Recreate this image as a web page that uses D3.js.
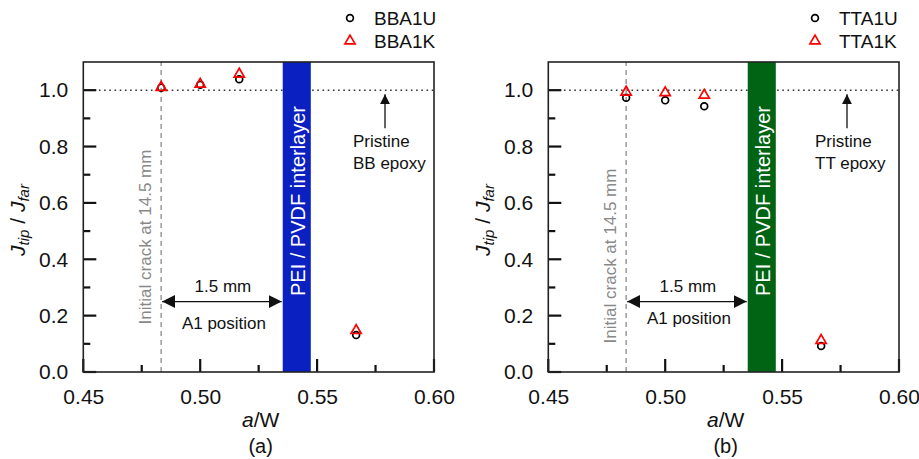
<!DOCTYPE html>
<html lang="en">
<head>
    <meta charset="UTF-8">
    <title>Jtip / Jfar vs a/W</title>
    <script src="https://cdnjs.cloudflare.com/ajax/libs/d3/7.8.5/d3.min.js"></script>
    <style>
        body { margin: 0; background: #fff; }
        svg { font-family: "Liberation Sans", Arial, sans-serif; }
        .axis path { display: none; }
        .axis text { font-size: 21px; fill: #111; font-family: "Liberation Sans", Arial, sans-serif; }
    </style>
</head>
<body>
<script type="text/javascript">
    const width = 919;
    const height = 459;

    // a/W positions of the measurement points
    const aw = [0.4833, 0.5000, 0.5167, 0.5667];
    // panel (a)
    const bbU = [1.009, 1.019, 1.039, 0.131];
    const bbK = [1.010, 1.021, 1.057, 0.147];
    // panel (b)
    const ttU = [0.973, 0.964, 0.943, 0.092];
    const ttK = [0.993, 0.991, 0.982, 0.112];

    const xTicks = [0.45, 0.50, 0.55, 0.60];
    const xMinor = [0.475, 0.525, 0.575];
    const yTicks = [0.0, 0.2, 0.4, 0.6, 0.8, 1.0];
    const yMinor = [0.1, 0.3, 0.5, 0.7, 0.9];

    const crackAW = 0.4833;
    const band = [0.5353, 0.5473];
    const pristineJ = 1.0;
    const arrowJ = 0.25;

    const svg = d3.select('body')
                  .append('svg')
                  .attr('width', width)
                  .attr('height', height);

    const defs = svg.append('defs');
    defs.append('marker')
        .attr('id', 'head')
        .attr('viewBox', '0 0 10 10')
        .attr('refX', 10).attr('refY', 5)
        .attr('markerWidth', 10).attr('markerHeight', 10)
        .attr('markerUnits', 'userSpaceOnUse')
        .attr('orient', 'auto-start-reverse')
        .append('path')
        .attr('d', 'M0,0 L10,5 L0,10 Z')
        .attr('fill', '#111');
    defs.append('marker')
        .attr('id', 'bighead')
        .attr('viewBox', '0 0 10 10')
        .attr('refX', 10).attr('refY', 5)
        .attr('markerWidth', 13).attr('markerHeight', 13)
        .attr('markerUnits', 'userSpaceOnUse')
        .attr('orient', 'auto-start-reverse')
        .append('path')
        .attr('d', 'M0,0 L10,5 L0,10 Z')
        .attr('fill', '#111');

    function drawPanel(p) {
        const x = d3.scaleLinear().domain([0.45, 0.60]).range([p.x0, p.x1]);
        const y = d3.scaleLinear().domain([0, 1.1]).range([372, 62]);
        const g = svg.append('g');

        // pristine level
        g.append('line')
            .attr('x1', x(0.45)).attr('x2', x(0.60))
            .attr('y1', y(pristineJ)).attr('y2', y(pristineJ))
            .attr('stroke', '#333').attr('stroke-width', 1.6)
            .attr('stroke-dasharray', '1.6,3.6');

        // interlayer band
        g.append('rect')
            .attr('x', x(band[0])).attr('y', y(1.1))
            .attr('width', x(band[1]) - x(band[0]))
            .attr('height', y(0) - y(1.1))
            .attr('fill', p.bandColor);
        g.append('text')
            .attr('transform', 'translate(' + ((x(band[0]) + x(band[1])) / 2 + 1) + ',' + 201 + ') rotate(-90)')
            .attr('text-anchor', 'middle')
            .attr('dominant-baseline', 'central')
            .attr('font-size', 20)
            .attr('fill', '#fff')
            .text('PEI / PVDF interlayer');

        // initial crack line
        g.append('line')
            .attr('x1', x(crackAW)).attr('x2', x(crackAW))
            .attr('y1', y(0)).attr('y2', y(1.1))
            .attr('stroke', '#999').attr('stroke-width', 1.5)
            .attr('stroke-dasharray', '5,4');
        g.append('text')
            .attr('transform', 'translate(' + (x(crackAW) - 16) + ',' + p.crackY + ') rotate(-90)')
            .attr('text-anchor', 'middle')
            .attr('dominant-baseline', 'central')
            .attr('font-size', 17)
            .attr('fill', '#888')
            .text('Initial crack at 14.5 mm');

        // 1.5 mm arrow
        g.append('line')
            .attr('x1', x(crackAW) + 1).attr('x2', x(band[0]) - 1)
            .attr('y1', y(arrowJ)).attr('y2', y(arrowJ))
            .attr('stroke', '#111').attr('stroke-width', 1.3)
            .attr('marker-start', 'url(#bighead)')
            .attr('marker-end', 'url(#bighead)');
        const mid = (x(crackAW) + x(band[0])) / 2;
        g.append('text')
            .attr('x', mid + 1).attr('y', y(arrowJ) - 10)
            .attr('text-anchor', 'middle').attr('font-size', 17).attr('fill', '#111')
            .text('1.5 mm');
        g.append('text')
            .attr('x', mid + 2).attr('y', y(arrowJ) + p.a1dy)
            .attr('text-anchor', 'middle').attr('font-size', 17).attr('fill', '#111')
            .text('A1 position');

        // pristine arrow and label
        g.append('line')
            .attr('x1', p.pristX).attr('x2', p.pristX)
            .attr('y1', y(pristineJ) + 38).attr('y2', y(pristineJ) + 4)
            .attr('stroke', '#111').attr('stroke-width', 1.3)
            .attr('marker-end', 'url(#head)');
        g.append('text')
            .attr('x', p.pristX - 32).attr('y', y(pristineJ) + 57)
            .attr('font-size', 17).attr('fill', '#111')
            .text('Pristine');
        g.append('text')
            .attr('x', p.pristX - 32).attr('y', y(pristineJ) + 79)
            .attr('font-size', 17).attr('fill', '#111')
            .text(p.epoxy);

        // tick labels from the axes, tick marks drawn inward by hand
        g.append('g').attr('class', 'axis')
            .attr('transform', 'translate(0,' + y(0) + ')')
            .call(d3.axisBottom(x).tickValues(xTicks).tickSize(0).tickPadding(17).tickFormat(d3.format('.2f')));
        g.append('g').attr('class', 'axis')
            .attr('transform', 'translate(' + x(0.45) + ',0)')
            .call(d3.axisLeft(y).tickValues(yTicks).tickSize(0).tickPadding(15).tickFormat(d3.format('.1f')));

        const tk = g.append('g').attr('stroke', '#111').attr('stroke-width', 2.2);
        xTicks.concat(xMinor).forEach(function(v) {
            const len = xTicks.indexOf(v) >= 0 ? 13 : 7;
            tk.append('line')
                .attr('x1', x(v)).attr('x2', x(v))
                .attr('y1', y(0)).attr('y2', y(0) - len);
        });
        yTicks.concat(yMinor).forEach(function(v) {
            const len = yTicks.indexOf(v) >= 0 ? 13 : 7;
            tk.append('line')
                .attr('x1', x(0.45)).attr('x2', x(0.45) + len)
                .attr('y1', y(v)).attr('y2', y(v));
        });

        // frame
        g.append('rect')
            .attr('x', x(0.45)).attr('y', y(1.1))
            .attr('width', x(0.60) - x(0.45)).attr('height', y(0) - y(1.1))
            .attr('fill', 'none').attr('stroke', '#222').attr('stroke-width', 1.6);

        // data
        const tri = d3.symbol().type(d3.symbolTriangle).size(45);
        g.selectAll('circle.u')
            .data(p.u).enter().append('circle')
            .attr('class', 'u')
            .attr('cx', function(d, i) { return x(aw[i]); })
            .attr('cy', function(d) { return y(d); })
            .attr('r', 3.4)
            .attr('fill', 'none').attr('stroke', '#000').attr('stroke-width', 1.7);
        g.selectAll('path.k')
            .data(p.k).enter().append('path')
            .attr('class', 'k')
            .attr('d', tri)
            .attr('transform', function(d, i) { return 'translate(' + x(aw[i]) + ',' + y(d) + ')'; })
            .attr('fill', 'none').attr('stroke', '#f00').attr('stroke-width', 1.7);

        // legend
        g.append('circle')
            .attr('cx', p.legX).attr('cy', 18).attr('r', 3.4)
            .attr('fill', 'none').attr('stroke', '#000').attr('stroke-width', 1.7);
        g.append('path')
            .attr('d', tri)
            .attr('transform', 'translate(' + p.legX + ',41)')
            .attr('fill', 'none').attr('stroke', '#f00').attr('stroke-width', 1.7);
        g.append('text')
            .attr('x', p.legX + 24).attr('y', 18)
            .attr('dominant-baseline', 'central')
            .attr('font-size', 19).attr('fill', '#111')
            .text(p.names[0]);
        g.append('text')
            .attr('x', p.legX + 24).attr('y', 41)
            .attr('dominant-baseline', 'central')
            .attr('font-size', 19).attr('fill', '#111')
            .text(p.names[1]);

        // axis titles
        const yl = g.append('text')
            .attr('transform', 'translate(' + (x(0.45) - 58) + ',220) rotate(-90)')
            .attr('text-anchor', 'middle')
            .attr('font-size', 21).attr('fill', '#111');
        yl.append('tspan').attr('font-style', 'italic').text('J');
        yl.append('tspan').attr('font-style', 'italic').attr('font-size', 15).attr('dy', 4).text('tip');
        yl.append('tspan').attr('dy', -4).text(' / ');
        yl.append('tspan').attr('font-style', 'italic').text('J');
        yl.append('tspan').attr('font-style', 'italic').attr('font-size', 15).attr('dy', 4).text('far');

        const xl = g.append('text')
            .attr('x', (x(0.45) + x(0.60)) / 2 + 2).attr('y', 427)
            .attr('text-anchor', 'middle')
            .attr('font-size', 21).attr('fill', '#111');
        xl.append('tspan').attr('font-style', 'italic').text('a');
        xl.append('tspan').text('/W');

        g.append('text')
            .attr('x', (x(0.45) + x(0.60)) / 2 + 2).attr('y', 453)
            .attr('text-anchor', 'middle')
            .attr('font-size', 20).attr('fill', '#111')
            .text(p.tag);
    }

    drawPanel({
        x0: 83.3, x1: 434, bandColor: '#0a20c0',
        u: bbU, k: bbK, names: ['BBA1U', 'BBA1K'],
        legX: 350, pristX: 385, epoxy: 'BB epoxy', crackY: 237, a1dy: 27, tag: '(a)'
    });
    drawPanel({
        x0: 548.3, x1: 899, bandColor: '#006414',
        u: ttU, k: ttK, names: ['TTA1U', 'TTA1K'],
        legX: 815, pristX: 847, epoxy: 'TT epoxy', crackY: 256, a1dy: 22, tag: '(b)'
    });
</script>
</body>
</html>
